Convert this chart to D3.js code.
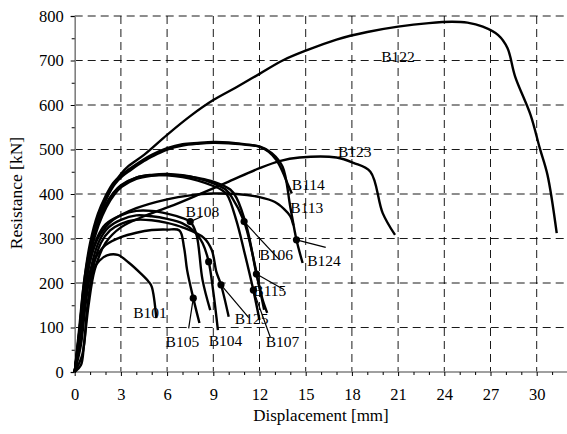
<!DOCTYPE html>
<html><head><meta charset="utf-8">
<script src="https://cdn.jsdelivr.net/npm/d3@7"></script>
<style>body{margin:0;background:#fff}svg{display:block}text{font-family:"Liberation Serif","Times New Roman",serif;fill:#000}</style>
</head><body><svg id="c" width="567" height="434"></svg>
<script>
// ---- data (displacement mm, resistance kN) ----
const xTicks = [0,3,6,9,12,15,18,21,24,27,30];
const yTicks = [0,100,200,300,400,500,600,700,800];
const b122 = [[0,0],[0.3,100],[0.6,200],[1,280],[1.5,340],[2,385],[2.5,420],[3,445],[3.5,463],[4.5,488],[6,533],[7.5,575],[9,611],[10.5,640],[12,670],[13.5,700],[15,722],[17,747],[19,764],[21,776],[23,784],[24.5,787],[25.5,785],[26.5,776],[27.5,757],[28.1,728],[28.6,664],[29.6,578],[30.2,503],[30.7,443],[31.3,312]];
const b114 = [[0,0],[0.3,90],[0.6,200],[1,290],[1.5,355],[2,395],[2.5,425],[3,442],[3.5,455],[4.4,476],[5,488],[6,503],[7,512],[8,515],[9,517],[10,516],[11,512],[12,506],[12.6,495],[13.1,476],[13.5,450],[13.8,425],[14.1,401]];
const b124 = [[0,0],[0.4,90],[0.7,200],[1.1,290],[1.6,355],[2.1,393],[2.6,422],[3.1,440],[3.6,453],[4.5,474],[5.2,487],[6,500],[7,509],[8,513],[9,515],[10,514],[11,511],[12,507],[12.8,492],[13.5,461],[14.0,371],[14.4,297],[14.8,245]];
const b123 = [[0,0],[0.4,15],[0.6,60],[0.9,150],[1.3,230],[2,290],[3,325],[4.5,350],[6.2,372],[8,398],[10,428],[12,458],[13.3,474],[14.6,482],[17,482],[18.1,470],[19.2,450],[20,357],[20.8,308]];
const b113 = [[0,0],[0.3,80],[0.6,170],[1,250],[1.5,300],[2,325],[2.5,342],[4,368],[6,388],[7.5,397],[9,401],[10.5,400],[12,393],[13,382],[13.6,366],[14.0,350],[14.2,330]];
const b106 = [[0,0],[0.3,90],[0.6,190],[1,275],[1.5,335],[2,375],[2.5,402],[3,420],[4,437],[5,443],[6,445],[7,442],[8,435],[9,424],[9.8,410],[10.2,393],[11.0,338],[11.5,272],[12.0,190],[12.3,140]];
const b107 = [[0,0],[0.3,80],[0.6,180],[1,270],[1.5,332],[2,372],[2.5,400],[3,418],[4,437],[5,442],[6,442],[7,438],[8,430],[9,418],[9.5,410],[9.9,398],[10.5,340],[11.0,272],[11.6,184],[12.0,117]];
const b115 = [[0,0],[0.35,80],[0.65,180],[1.05,270],[1.55,330],[2.05,370],[2.55,398],[3.05,416],[4,434],[5,441],[6,443],[7,441],[8,436],[9,428],[10.1,410],[10.5,392],[11.2,322],[11.8,220],[12.2,163],[12.5,133]];
const b108 = [[0,0],[0.3,80],[0.6,170],[1,250],[1.5,305],[2,332],[3,352],[4,362],[5,362],[6,356],[7,346],[7.5,338],[7.9,310],[8.3,207],[8.8,139]];
const b104 = [[0,0],[0.4,60],[0.7,150],[1.1,240],[1.6,295],[2.2,325],[3,342],[4,352],[5,350],[6,344],[7,334],[7.8,315],[8.3,290],[8.7,248],[9.0,180],[9.3,94]];
const b125 = [[0,0],[0.5,40],[0.8,140],[1.2,235],[1.7,290],[2.3,318],[3,333],[4,342],[5,341],[6,335],[7,325],[8.4,301],[8.9,274],[9.2,225],[9.5,196],[10.0,124]];
const b105 = [[0,0],[0.3,60],[0.6,150],[1,225],[1.5,265],[2,285],[3,303],[4,313],[5,319],[6,320],[6.8,318],[7.1,280],[7.3,229],[7.7,166],[8.1,110]];
const b101 = [[0,0],[0.3,60],[0.67,178],[1.2,229],[1.6,250],[2.1,262],[2.8,263],[3.5,246],[4.3,221],[4.8,203],[5.0,192],[5.3,121]];
const seriesNames = ["B122","B114","B124","B123","B113","B106","B107","B115","B108","B104","B125","B105","B101"];
const seriesData = [b122,b114,b124,b123,b113,b106,b107,b115,b108,b104,b125,b105,b101];
// marker points [x, y] and label anchors [x, y] in data units
const markers = [["B108",7.5,338],["B106",11.0,338],["B124",14.4,297],["B115",11.8,220],["B107",11.6,184],["B125",9.5,196],["B105",7.7,166],["B104",8.7,248]];
const leaderEnds = [["B108",8.3,350],["B106",13.3,252],["B124",16.3,280],["B115",13.6,185],["B107",12.7,78],["B125",11.3,122],["B105",7.4,98]];
const labels = [["B122",19.9,697],["B123",17.1,483],["B114",14.1,409],["B113",14.0,357],["B106",12.0,252],["B124",15.1,238],["B108",7.2,348],["B115",11.6,171],["B125",10.4,108],["B107",12.4,56],["B104",8.7,58],["B105",5.9,56],["B101",3.8,121]];

const svg = d3.select("#c");
const x = d3.scaleLinear().domain([0,32]).range([74.7,567.5]);
const y = d3.scaleLinear().domain([0,800]).range([372,16]);

// grid
const g = svg.append("g");
g.selectAll("line.v").data(xTicks.filter(d=>d>0)).join("line")
  .attr("x1",d=>x(d)).attr("x2",d=>x(d)).attr("y1",y(800)).attr("y2",y(0))
  .attr("stroke","#000").attr("stroke-width",0.9).attr("stroke-dasharray","8,5");
g.selectAll("line.h").data(yTicks.filter(d=>d>0)).join("line")
  .attr("x1",x(0)).attr("x2",567).attr("y1",d=>y(d)).attr("y2",d=>y(d))
  .attr("stroke","#000").attr("stroke-width",0.9).attr("stroke-dasharray","8,5");

// axes
const xMinor = d3.range(1,33).filter(d=>d%3!==0);
const yMinor = d3.range(50,800,100);
const ax = svg.append("g").attr("transform",`translate(0,${y(0)})`)
  .call(d3.axisBottom(x).tickValues(xTicks).tickSize(4).tickPadding(12).tickFormat(d3.format("d")));
const axm = svg.append("g").attr("transform",`translate(0,${y(0)})`)
  .call(d3.axisBottom(x).tickValues(xMinor).tickSize(3).tickFormat(""));
const ay = svg.append("g").attr("transform",`translate(${x(0)},0)`)
  .call(d3.axisLeft(y).tickValues(yTicks).tickSize(4).tickPadding(7).tickFormat(d3.format("d")));
const aym = svg.append("g").attr("transform",`translate(${x(0)},0)`)
  .call(d3.axisLeft(y).tickValues(yMinor).tickSize(3).tickFormat(""));
[ax,axm,ay,aym].forEach(a=>{
  a.select(".domain").attr("stroke","#808080").attr("stroke-width",1.6);
  a.selectAll(".tick line").attr("stroke","#000").attr("stroke-width",1);
  a.selectAll("text").attr("font-size",16.5).attr("font-family","Liberation Serif").attr("fill","#000");
});
axm.select(".domain").remove(); aym.select(".domain").remove();
ax.select(".domain").attr("d",`M${x(0)},0H567`);

// curves
const line = d3.line().x(d=>x(d[0])).y(d=>y(d[1])).curve(d3.curveCatmullRom.alpha(0.5));
svg.append("g").selectAll("path").data(seriesData).join("path")
  .attr("d",line).attr("fill","none").attr("stroke","#000").attr("stroke-width",2.4).attr("stroke-linejoin","round");

// leaders
const mk = new Map(markers.map(m=>[m[0],m]));
svg.append("g").selectAll("line").data(leaderEnds).join("line")
  .attr("x1",d=>x(mk.get(d[0])[1])).attr("y1",d=>y(mk.get(d[0])[2]))
  .attr("x2",d=>x(d[1])).attr("y2",d=>y(d[2]))
  .attr("stroke","#000").attr("stroke-width",1.2);
svg.append("g").selectAll("circle").data(markers).join("circle")
  .attr("cx",d=>x(d[1])).attr("cy",d=>y(d[2])).attr("r",3.6).attr("fill","#000");

// labels
svg.append("g").selectAll("text").data(labels).join("text")
  .attr("x",d=>x(d[1])).attr("y",d=>y(d[2])).attr("font-size",15.5).text(d=>d[0]);

// titles
svg.append("text").attr("x",321).attr("y",421).attr("text-anchor","middle").attr("font-size",17).text("Displacement [mm]");
svg.append("text").attr("transform","translate(22,193) rotate(-90)").attr("text-anchor","middle").attr("font-size",17.5).text("Resistance [kN]");
</script></body></html>
